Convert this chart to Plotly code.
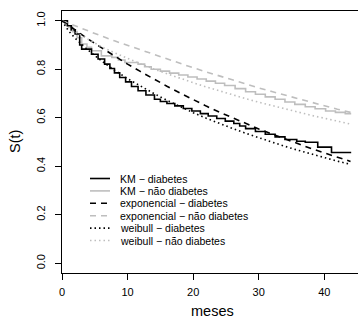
import plotly.graph_objects as go

# Kaplan-Meier step estimates (months, survival)
km_diab_t = [0, 0.8, 1.4, 2.0, 2.7, 3.0, 4.5, 5.5, 6.5, 7.3, 8.0, 8.8, 9.7, 10.6, 11.6, 12.8,
             14.1, 15.0, 16.0, 17.2, 18.5, 19.8, 21.1, 22.3, 23.6, 24.9, 26.2, 27.1, 28.0,
             29.5, 31.0, 32.5, 34.0, 35.8, 37.1, 39.0, 41.1, 44.1]
km_diab_s = [1.0, 0.979, 0.962, 0.945, 0.900, 0.883, 0.862, 0.842, 0.821, 0.803, 0.785, 0.766,
             0.748, 0.729, 0.711, 0.694, 0.676, 0.667, 0.659, 0.649, 0.638, 0.628, 0.617, 0.607,
             0.597, 0.586, 0.576, 0.566, 0.555, 0.543, 0.532, 0.521, 0.510, 0.503, 0.499, 0.479,
             0.457, 0.457]

km_nd_t = [0, 0.9, 1.6, 2.3, 3.0, 3.8, 4.5, 6.0, 7.6, 8.6, 9.6, 11.6, 12.6, 13.6, 15.0, 16.4,
           17.8, 19.2, 20.6, 22.0, 23.4, 24.8, 26.4, 28.0, 29.5, 31.0, 32.5, 34.0, 35.5, 37.1,
           38.6, 40.2, 41.7, 43.2, 44.1]
km_nd_s = [1.0, 0.978, 0.955, 0.930, 0.904, 0.890, 0.876, 0.855, 0.849, 0.838, 0.828, 0.821,
           0.810, 0.800, 0.792, 0.784, 0.776, 0.768, 0.760, 0.751, 0.742, 0.733, 0.720, 0.707,
           0.697, 0.686, 0.676, 0.665, 0.655, 0.645, 0.637, 0.628, 0.622, 0.617, 0.617]

# Fitted parametric curves, sampled in months
fit_t = [0, 1, 2, 4, 6, 8, 10, 12, 14, 16, 18, 20, 22, 24, 26, 28, 30, 32, 34, 36, 38, 40, 42, 44]
exp_diab = [1.000, 0.981, 0.961, 0.924, 0.889, 0.854, 0.821, 0.790, 0.759, 0.730, 0.702, 0.674,
            0.648, 0.623, 0.599, 0.576, 0.554, 0.533, 0.512, 0.492, 0.473, 0.455, 0.437, 0.420]
exp_nd = [1.000, 0.989, 0.979, 0.958, 0.937, 0.917, 0.898, 0.879, 0.860, 0.841, 0.823, 0.806,
          0.789, 0.772, 0.755, 0.739, 0.723, 0.708, 0.693, 0.678, 0.663, 0.649, 0.635, 0.622]
weib_diab = [1.000, 0.958, 0.928, 0.878, 0.835, 0.796, 0.761, 0.729, 0.700, 0.672, 0.646, 0.621,
             0.598, 0.576, 0.556, 0.536, 0.517, 0.499, 0.482, 0.466, 0.450, 0.435, 0.421, 0.408]
weib_nd = [1.000, 0.973, 0.954, 0.922, 0.893, 0.868, 0.844, 0.822, 0.801, 0.781, 0.762, 0.744,
           0.727, 0.710, 0.694, 0.679, 0.664, 0.650, 0.636, 0.623, 0.610, 0.598, 0.586, 0.574]

legend_labels = ["KM \u2212 diabetes", "KM \u2212 não diabetes", "exponencial \u2212 diabetes",
                 "exponencial \u2212 não diabetes", "weibull \u2212 diabetes", "weibull \u2212 não diabetes"]

x_ticks = [0, 10, 20, 30, 40]
y_ticks = [0.0, 0.2, 0.4, 0.6, 0.8, 1.0]

BLACK = "#000000"
GRAY = "#bebebe"
DASH = "6px,5px"
DOT = "1.5px,3px"
LW = 1.6

styles = [
    (BLACK, "solid"),
    (GRAY, "solid"),
    (BLACK, DASH),
    (GRAY, DASH),
    (BLACK, DOT),
    (GRAY, DOT),
]

W, H = 358, 323
ML, MR, MT, MB = 62, 0, 11, 50
PW, PH = W - ML - MR, H - MT - MB


def px_to_paper_x(px):
    return (px - ML) / PW


def px_to_paper_y(py):
    return (H - MB - py) / PH


fig = go.Figure()

series = [
    (km_nd_t, km_nd_s, 1, "hv"),
    (km_diab_t, km_diab_s, 0, "hv"),
    (fit_t, exp_nd, 3, "linear"),
    (fit_t, exp_diab, 2, "linear"),
    (fit_t, weib_nd, 5, "linear"),
    (fit_t, weib_diab, 4, "linear"),
]
for xs, ys, idx, shape in series:
    color, dash = styles[idx]
    fig.add_trace(go.Scatter(
        x=xs, y=ys, mode="lines", name=legend_labels[idx],
        line=dict(color=color, width=LW, dash=dash, shape=shape),
        showlegend=False, hoverinfo="skip",
    ))

# Legend box drawn in the lower-left of the plot
shapes = []
annotations = []
row0, row_gap = 178.5, 12.4
for i, label in enumerate(legend_labels):
    color, dash = styles[i]
    yp = px_to_paper_y(row0 + i * row_gap)
    shapes.append(dict(
        type="line", xref="paper", yref="paper",
        x0=px_to_paper_x(90), x1=px_to_paper_x(110), y0=yp, y1=yp,
        line=dict(color=color, width=LW, dash=dash),
    ))
    annotations.append(dict(
        text=label, xref="paper", yref="paper",
        x=px_to_paper_x(118), y=yp, xanchor="left", yanchor="middle",
        showarrow=False, font=dict(size=10.5, color="#000000"),
    ))

annotations.append(dict(
    text="S(t)", xref="paper", yref="paper", x=px_to_paper_x(15), y=0.5,
    xanchor="center", yanchor="middle", textangle=-90, showarrow=False,
    font=dict(size=14.5, color="#000000"),
))
annotations.append(dict(
    text="meses", xref="paper", yref="paper", x=px_to_paper_x(212), y=px_to_paper_y(311),
    xanchor="center", yanchor="middle", showarrow=False,
    font=dict(size=14.5, color="#000000"),
))

fig.update_layout(
    width=W, height=H,
    margin=dict(l=ML, r=MR, t=MT, b=MB, pad=0),
    paper_bgcolor="white", plot_bgcolor="white",
    font=dict(family="Liberation Sans, Arial, sans-serif", color="#000000"),
    showlegend=False,
    shapes=shapes,
    annotations=annotations,
    xaxis=dict(
        range=[0, 45.14], tickvals=x_ticks, ticktext=[str(v) for v in x_ticks],
        ticks="outside", ticklen=6, tickwidth=1.2, tickcolor="#000000",
        showline=True, linecolor="#000000", linewidth=1.3, mirror=True,
        showgrid=False, zeroline=False, tickfont=dict(size=11),
        ticklabelstandoff=3,
    ),
    yaxis=dict(
        range=[-0.04, 1.04], tickvals=y_ticks, ticktext=[f"{v:.1f}" for v in y_ticks],
        tickangle=-90, ticks="outside", ticklen=6, tickwidth=1.2, tickcolor="#000000",
        showline=True, linecolor="#000000", linewidth=1.3, mirror=False,
        showgrid=False, zeroline=False, tickfont=dict(size=11),
        ticklabelstandoff=5,
    ),
)

fig.write_html("out.html")
